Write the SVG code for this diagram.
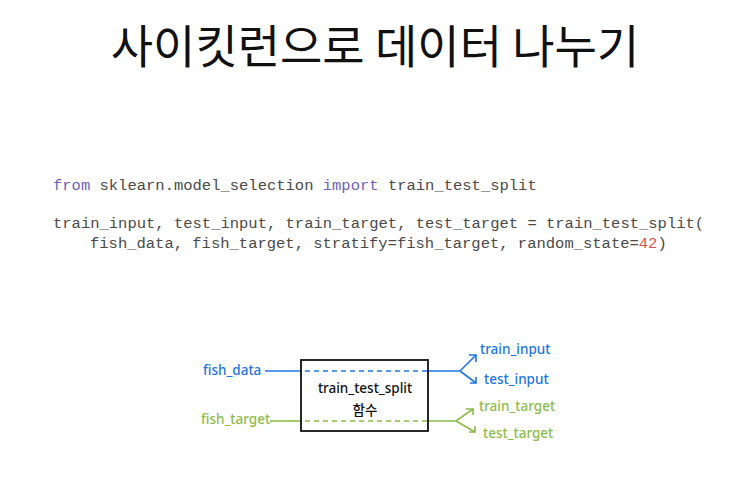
<svg xmlns="http://www.w3.org/2000/svg" width="750" height="489" viewBox="0 0 750 489">
<defs>
<style>
.title{font-family:"Noto Sans CJK KR","Noto Sans",sans-serif;font-size:46px;fill:#111}
.code{font-family:"Liberation Mono","DejaVu Sans Mono",monospace;font-size:15.5px;fill:#4a4a4a}
.kw{fill:#6e62b8}
.num{fill:#d9534f}
.hw{font-family:"Noto Sans","Noto Sans CJK KR",sans-serif;font-size:13.5px;font-weight:500}
.blue{fill:#2275e0}
.green{fill:#8dbb4c}
.lb{stroke:#2275e0;stroke-width:1.6;fill:none}
.lg{stroke:#8dbb4c;stroke-width:1.6;fill:none}
.dash{stroke-dasharray:5 4}
</style>
</defs>
<rect width="750" height="489" fill="#ffffff"/>
<text class="title" x="375" y="63" text-anchor="middle">사이킷런으로 데이터 나누기</text>
<g id="code">
<text class="code" x="53" y="190"><tspan class="kw">from</tspan> sklearn.model_selection <tspan class="kw">import</tspan> train_test_split</text>
<text class="code" x="53" y="228">train_input, test_input, train_target, test_target = train_test_split(</text>
<text class="code" x="90" y="248">fish_data, fish_target, stratify=fish_target, random_state=<tspan class="num">42</tspan>)</text>
</g>
<g id="connectors">
<path class="lb" d="M265 371 H302"/>
<path class="lb dash" d="M305 371 H428"/>
<path class="lb" d="M428 371 H460 L476 355 M460 371 L476 383"/>
<path class="lb" d="M469 355 H476 V362 M470 383 H476 V377"/>
<path class="lg" d="M270 421 H302"/>
<path class="lg dash" d="M305 421 H428"/>
<path class="lg" d="M428 421 H456 L473 409 M456 421 L475 432"/>
<path class="lg" d="M466 409 H473 V415 M469 432 H475 V426"/>
</g>
<g id="split">
<rect x="301" y="360" width="127" height="71" fill="none" stroke="#111" stroke-width="1.8"/>
<text class="hw" x="365" y="393" text-anchor="middle" fill="#111" font-size="15" font-weight="600">train_test_split</text>
<text class="hw" x="365" y="415" text-anchor="middle" fill="#111" font-size="13.5" font-weight="600">함수</text>
</g>
<g id="fish_data"><text class="hw blue" x="203" y="375">fish_data</text></g>
<g id="fish_target"><text class="hw green" x="201" y="424">fish_target</text></g>
<g id="train_input"><text class="hw blue" x="480" y="354">train_input</text></g>
<g id="test_input"><text class="hw blue" x="484" y="384">test_input</text></g>
<g id="train_target"><text class="hw green" x="479" y="411">train_target</text></g>
<g id="test_target"><text class="hw green" x="483" y="438">test_target</text></g>
</svg>
